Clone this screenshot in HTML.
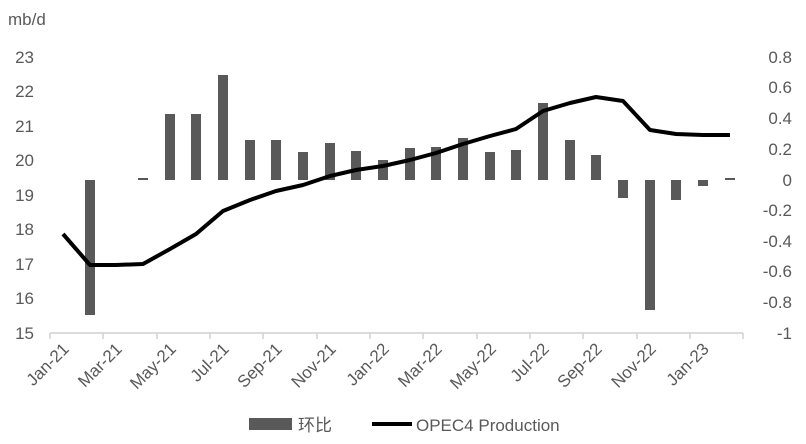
<!DOCTYPE html>
<html><head><meta charset="utf-8"><style>
body{margin:0;background:#fff}
svg text{font-family:"Liberation Sans","Noto Sans CJK SC",sans-serif;fill:#595959;font-size:17px}
</style></head><body>
<svg width="806" height="439" xmlns="http://www.w3.org/2000/svg">
<text x="8" y="25" font-size="18">mb/d</text>
<g text-anchor="end">
<text x="34" y="63">23</text><text x="34" y="97">22</text><text x="34" y="132">21</text><text x="34" y="166">20</text>
<text x="34" y="201">19</text><text x="34" y="235">18</text><text x="34" y="270">17</text><text x="34" y="304">16</text><text x="34" y="339">15</text>
</g>
<g text-anchor="end">
<text x="792" y="63">0.8</text><text x="792" y="93">0.6</text><text x="792" y="124">0.4</text><text x="792" y="155">0.2</text>
<text x="792" y="186">0</text><text x="792" y="216">-0.2</text><text x="792" y="247">-0.4</text><text x="792" y="277">-0.6</text>
<text x="792" y="308">-0.8</text><text x="792" y="339">-1</text>
</g>
<line x1="50" y1="333" x2="743" y2="333" stroke="#d0d0d0" stroke-width="1.5"/>
<g fill="#595959">
<rect x="85" y="180" width="10" height="135"/>
<rect x="138" y="178" width="10" height="2"/>
<rect x="165" y="114" width="10" height="66"/>
<rect x="191" y="114" width="10" height="66"/>
<rect x="218" y="75" width="10" height="105"/>
<rect x="245" y="140" width="10" height="40"/>
<rect x="271" y="140" width="10" height="40"/>
<rect x="298" y="152" width="10" height="28"/>
<rect x="325" y="143" width="10" height="37"/>
<rect x="351" y="151" width="10" height="29"/>
<rect x="378" y="160" width="10" height="20"/>
<rect x="405" y="148" width="10" height="32"/>
<rect x="431" y="147" width="10" height="33"/>
<rect x="458" y="138" width="10" height="42"/>
<rect x="485" y="152" width="10" height="28"/>
<rect x="511" y="150" width="10" height="30"/>
<rect x="538" y="103" width="10" height="77"/>
<rect x="565" y="140" width="10" height="40"/>
<rect x="591" y="155" width="10" height="25"/>
<rect x="618" y="180" width="10" height="18"/>
<rect x="645" y="180" width="10" height="130"/>
<rect x="671" y="180" width="10" height="20"/>
<rect x="698" y="180" width="10" height="6"/>
<rect x="725" y="178" width="10" height="2"/>
</g>
<polyline fill="none" stroke="#000" stroke-width="4" stroke-linejoin="round" points="63,234 90,265 116,265 143,264 170,249 196,234 223,211 250,200 276,191 303,185 330,176 356,170 383,166 410,160 436,153 463,144 490,136 516,129 543,111 570,103 596,97 623,101 650,130 676,134 703,135 730,135"/>
<g stroke="#d0d0d0" stroke-width="1.5">
<line x1="50" y1="333" x2="50" y2="339"/><line x1="103" y1="333" x2="103" y2="339"/><line x1="157" y1="333" x2="157" y2="339"/><line x1="210" y1="333" x2="210" y2="339"/><line x1="263" y1="333" x2="263" y2="339"/><line x1="317" y1="333" x2="317" y2="339"/><line x1="370" y1="333" x2="370" y2="339"/><line x1="423" y1="333" x2="423" y2="339"/><line x1="477" y1="333" x2="477" y2="339"/><line x1="530" y1="333" x2="530" y2="339"/><line x1="583" y1="333" x2="583" y2="339"/><line x1="637" y1="333" x2="637" y2="339"/><line x1="690" y1="333" x2="690" y2="339"/><line x1="743" y1="333" x2="743" y2="339"/>
</g>
<g text-anchor="end">
<text transform="translate(70,350) rotate(-45)">Jan-21</text>
<text transform="translate(123,350) rotate(-45)">Mar-21</text>
<text transform="translate(177,350) rotate(-45)">May-21</text>
<text transform="translate(230,350) rotate(-45)">Jul-21</text>
<text transform="translate(283,350) rotate(-45)">Sep-21</text>
<text transform="translate(337,350) rotate(-45)">Nov-21</text>
<text transform="translate(390,350) rotate(-45)">Jan-22</text>
<text transform="translate(443,350) rotate(-45)">Mar-22</text>
<text transform="translate(497,350) rotate(-45)">May-22</text>
<text transform="translate(550,350) rotate(-45)">Jul-22</text>
<text transform="translate(603,350) rotate(-45)">Sep-22</text>
<text transform="translate(657,350) rotate(-45)">Nov-22</text>
<text transform="translate(710,350) rotate(-45)">Jan-23</text>
</g>
<rect x="249" y="418" width="43" height="12" fill="#595959"/>
<text x="298" y="431">环比</text>
<line x1="372" y1="424" x2="412" y2="424" stroke="#000" stroke-width="4"/>
<text x="416" y="431">OPEC4 Production</text>
</svg>
</body></html>
